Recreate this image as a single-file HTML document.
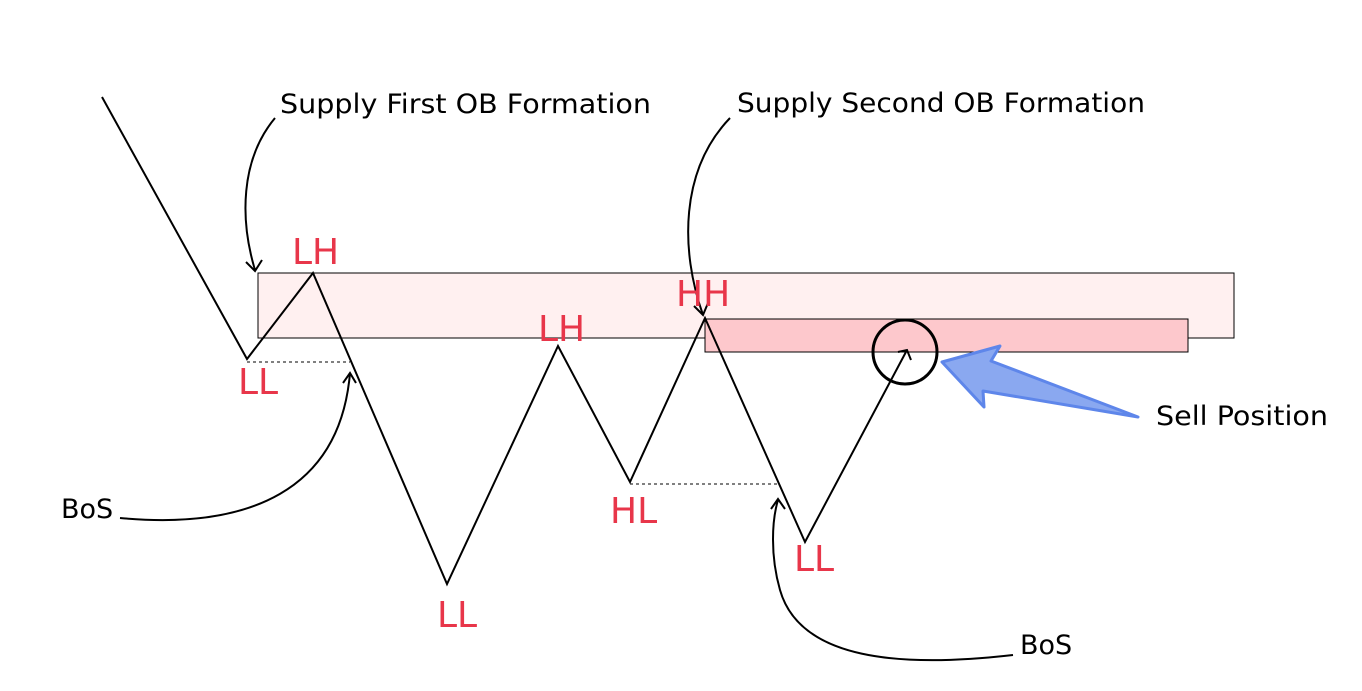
<!DOCTYPE html>
<html><head><style>body{margin:0;background:#fff}svg{display:block}</style></head><body>
<svg width="1362" height="691" viewBox="0 0 1362 691" xmlns="http://www.w3.org/2000/svg" font-family="DejaVu Sans, Liberation Sans, sans-serif">
<rect x="258" y="273" width="976" height="65" fill="#fff0f0" stroke="#000" stroke-width="1"/>
<rect x="705" y="319" width="483" height="33" fill="#fdc8cc" stroke="#000" stroke-width="1"/>
<polyline points="102,97 247,359 313,273 447,584 558,346 630,482 705,318 805,542 907,350" fill="none" stroke="#000" stroke-width="2"/>
<path d="M898,352 L907,350 L911,360" fill="none" stroke="#000" stroke-width="2"/>
<line x1="247" y1="362" x2="350" y2="362" stroke="#000" stroke-dasharray="3,3"/>
<line x1="630" y1="484" x2="779" y2="484" stroke="#000" stroke-dasharray="3,3"/>
<circle cx="905" cy="352" r="32" fill="none" stroke="#000" stroke-width="3"/>
<polygon points="942,362 1000,346 991,361 1138,417 983,391 984,407" fill="#8aa8f0" stroke="#5e86ea" stroke-width="3" stroke-linejoin="round"/>
<path d="M275,118 C240,160 240,220 255,270" fill="none" stroke="#000" stroke-width="2"/>
<path d="M246,262 L255,271 L262,260" fill="none" stroke="#000" stroke-width="2"/>
<path d="M730,118 C680,170 680,250 703,315" fill="none" stroke="#000" stroke-width="2"/>
<path d="M694,306 L703,315 L708,303" fill="none" stroke="#000" stroke-width="2"/>
<path d="M120,518 C250,530 340,490 350,373" fill="none" stroke="#000" stroke-width="2"/>
<path d="M343,383 L350,373 L356,383" fill="none" stroke="#000" stroke-width="2"/>
<path d="M1013,655 C900,668 800,660 780,590 C770,555 772,520 778,500" fill="none" stroke="#000" stroke-width="2"/>
<path d="M771,509 L778,499 L785,509" fill="none" stroke="#000" stroke-width="2"/>
<g font-size="27" fill="#000">
<text x="280" y="113" textLength="371" lengthAdjust="spacingAndGlyphs">Supply First OB Formation</text>
<text x="737" y="112" textLength="408" lengthAdjust="spacingAndGlyphs">Supply Second OB Formation</text>
<text x="1156" y="425" textLength="172" lengthAdjust="spacingAndGlyphs">Sell Position</text>
<text x="61" y="518">BoS</text>
<text x="1020" y="654">BoS</text>
</g>
<g font-size="36" fill="#e8364a">
<text x="292" y="264">LH</text>
<text x="238" y="394">LL</text>
<text x="538" y="341">LH</text>
<text x="676" y="306">HH</text>
<text x="437" y="627">LL</text>
<text x="610" y="523">HL</text>
<text x="794" y="571">LL</text>
</g>
</svg>
</body></html>
